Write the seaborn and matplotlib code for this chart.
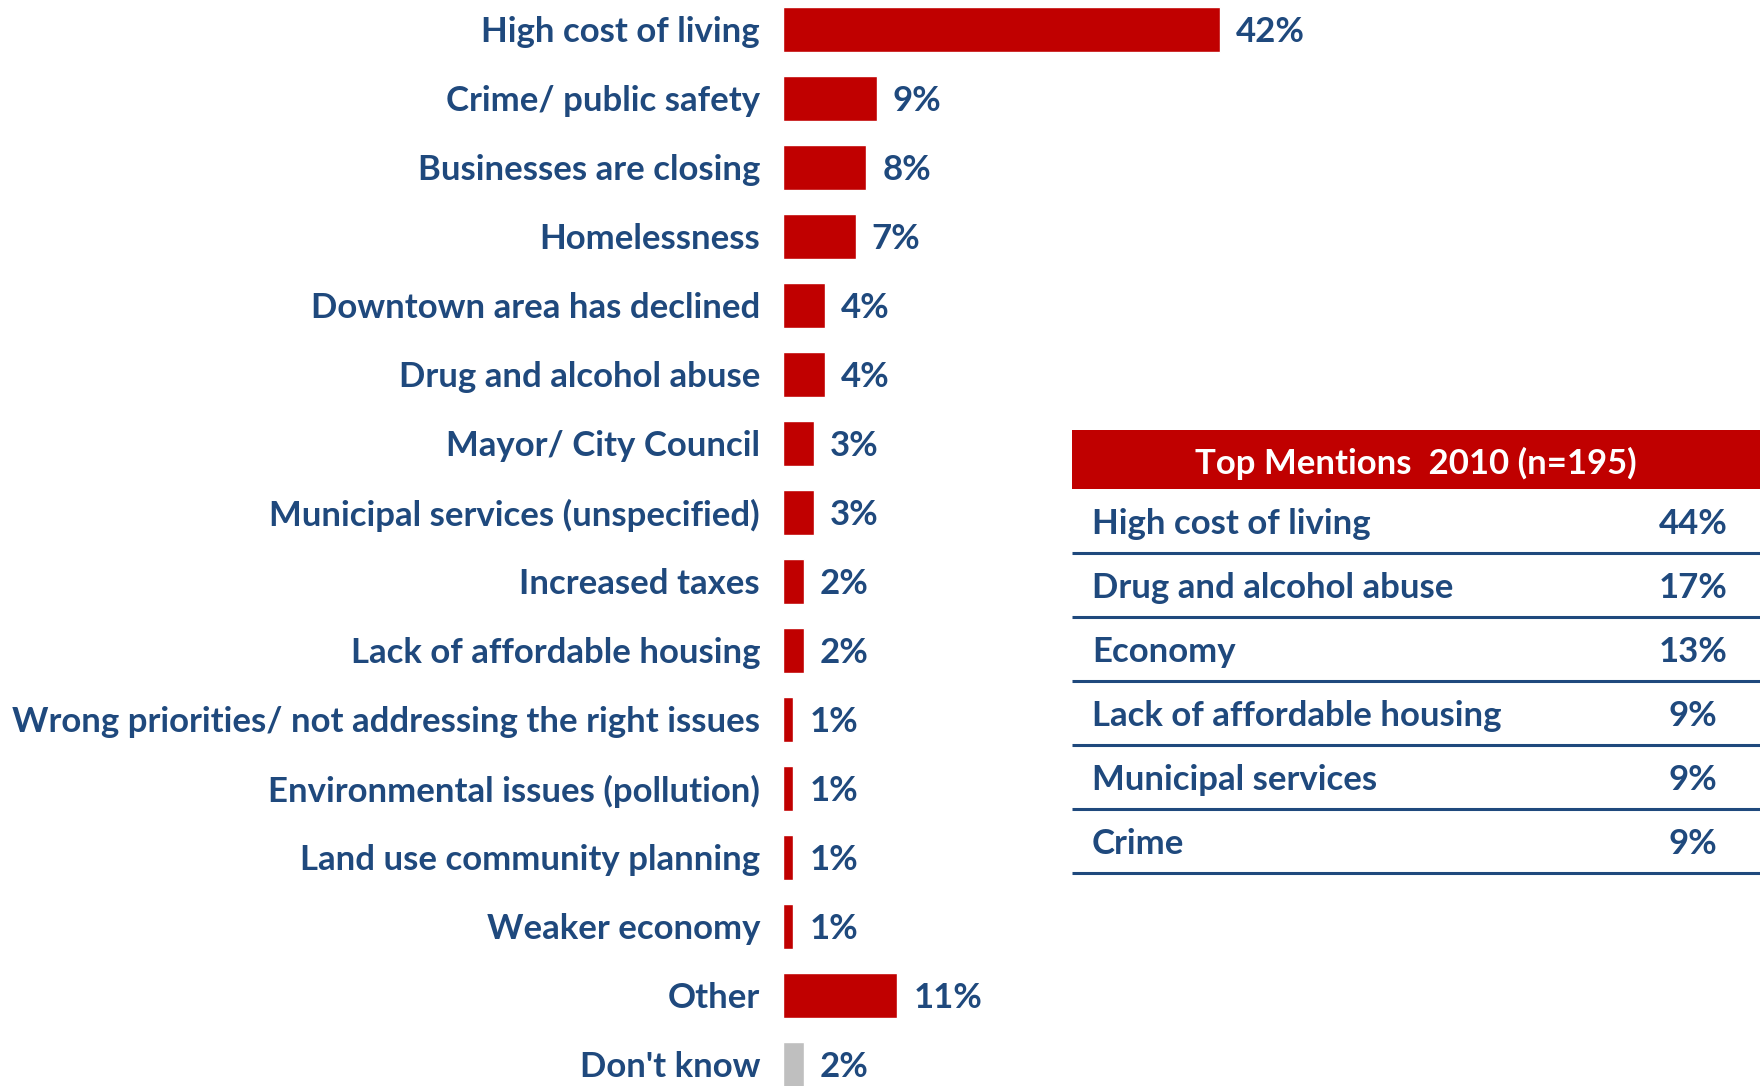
import matplotlib
matplotlib.use("Agg")
import matplotlib.pyplot as plt
from matplotlib.patches import Rectangle
import seaborn as sns
import pandas as pd

# Most important problem facing the city (current survey)
issues = [
    "High cost of living",
    "Crime/ public safety",
    "Businesses are closing",
    "Homelessness",
    "Downtown area has declined",
    "Drug and alcohol abuse",
    "Mayor/ City Council",
    "Municipal services (unspecified)",
    "Increased taxes",
    "Lack of affordable housing",
    "Wrong priorities/ not addressing the right issues",
    "Environmental issues (pollution)",
    "Land use community planning",
    "Weaker economy",
    "Other",
    "Don't know",
]
shares = [42, 9, 8, 7, 4, 4, 3, 3, 2, 2, 1, 1, 1, 1, 11, 2]

# Comparison table from 2010
table_title = "Top Mentions  2010 (n=195)"
table_items = [
    "High cost of living",
    "Drug and alcohol abuse",
    "Economy",
    "Lack of affordable housing",
    "Municipal services",
    "Crime",
]
table_shares = [44, 17, 13, 9, 9, 9]

RED = "#C00000"
GREY = "#BFBFBF"
NAVY = "#1F497D"

W, H, DPI = 1760, 1086, 100

sns.set_theme(style="white")
plt.rcParams["font.family"] = ["Lato", "DejaVu Sans"]
plt.rcParams["font.weight"] = "bold"

fig = plt.figure(figsize=(W / DPI, H / DPI), dpi=DPI)
renderer = fig.canvas.get_renderer()


def fit_size(text, target_px, base=20.0):
    t = fig.text(0, 0, text, fontsize=base, fontweight="bold")
    w = t.get_window_extent(renderer=renderer).width
    t.remove()
    return base * target_px / w


FS = fit_size(issues[10], 749)

# ---- bar chart -------------------------------------------------------------
x0 = 783
ax = fig.add_axes([x0 / W, 0, 1 - x0 / W, 1])
ax.patch.set_alpha(0)

df = pd.DataFrame({"issue": issues, "share": shares})
colors = [GREY if name == "Don't know" else RED for name in issues]
sns.barplot(data=df, x="share", y="issue", hue="issue", palette=colors,
            legend=False, width=0.65, saturation=1, ax=ax)

px_per_pct = 10.4
row_pitch = 69.0
row0 = 29.2
ax.set_xlim(0, (W - x0) / px_per_pct)
ax.set_ylim((H - row0) / row_pitch, -row0 / row_pitch)

for c in ax.containers:
    anns = ax.bar_label(c, labels=[f"{v:g}%" for v in c.datavalues],
                        padding=11.5, color=NAVY, fontsize=FS,
                        fontweight="bold")
    for a in anns:
        a.set_va("center_baseline")

ax.set_xlabel("")
ax.set_ylabel("")
ax.set_xticks([])
ax.tick_params(axis="y", length=0, pad=16.5, labelsize=FS, labelcolor=NAVY)
for lab in ax.get_yticklabels():
    lab.set_fontweight("bold")
sns.despine(ax=ax, left=True, bottom=True)

# ---- 2010 comparison table -------------------------------------------------
tab = fig.add_axes([0, 0, 1, 1], zorder=3)
tab.set_xlim(0, W)
tab.set_ylim(H, 0)
tab.axis("off")
tab.patch.set_alpha(0)

t_left, head_top, head_bot, row_h = 1072, 430, 489, 64
tab.add_patch(Rectangle((t_left, head_top), W - t_left, head_bot - head_top,
                        facecolor=RED, edgecolor="none"))
tab.text((t_left + W) / 2, (head_top + head_bot) / 2 + 1, table_title,
         color="white", fontsize=FS, fontweight="bold",
         ha="center", va="center_baseline")

for i, (name, val) in enumerate(zip(table_items, table_shares)):
    top = head_bot + i * row_h
    cy = top + row_h / 2
    tab.text(1092, cy, name, color=NAVY, fontsize=FS, fontweight="bold",
             ha="left", va="center_baseline")
    tab.text(1693, cy, f"{val}%", color=NAVY, fontsize=FS, fontweight="bold",
             ha="center", va="center_baseline")
    tab.plot([t_left, W], [top + row_h, top + row_h], color=NAVY, lw=2.2,
             solid_capstyle="butt")

fig.savefig("out.png", dpi=DPI)
